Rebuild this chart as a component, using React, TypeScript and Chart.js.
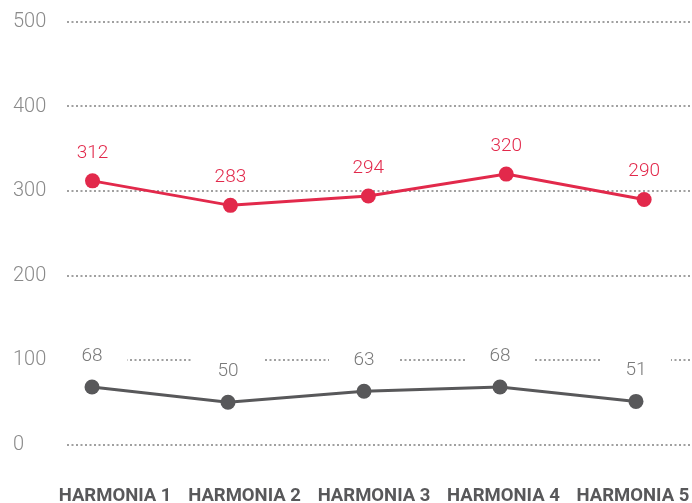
import React, { useEffect, useRef } from "react";
import { Chart, registerables } from "chart.js";

Chart.register(...registerables);

const categories = ["HARMONIA 1", "HARMONIA 2", "HARMONIA 3", "HARMONIA 4", "HARMONIA 5"];
const redValues = [312, 283, 294, 320, 290];
const grayValues = [68, 50, 63, 68, 51];
const yTickValues = [0, 100, 200, 300, 400, 500];

const RED = "#e2294b";
const GRAY = "#58585a";

const labelPlugin = {
  id: "valueLabels",
  afterDatasetsDraw(chart: any) {
    const ctx = chart.ctx;
    chart.data.datasets.forEach((ds: any, di: number) => {
      const meta = chart.getDatasetMeta(di);
      meta.data.forEach((pt: any, i: number) => {
        const text = String(ds.data[i].y);
        const x = pt.x;
        const y = pt.y - ds.labelOffset;
        ctx.save();
        if (ds.labelBox) {
          ctx.fillStyle = "#ffffff";
          ctx.fillRect(x - 35, y - 13, 70, 26);
        }
        ctx.font = "300 19px Roboto";
        ctx.fillStyle = ds.labelColor;
        ctx.textAlign = "center";
        ctx.textBaseline = "middle";
        ctx.fillText(text, x, y);
        ctx.restore();
      });
    });
  },
};

export default function App() {
  const ref = useRef<HTMLCanvasElement>(null);
  useEffect(() => {
    if (!ref.current) return;
    const chart = new Chart(ref.current, {
      type: "line",
      data: {
        datasets: [
          {
            data: redValues.map((v, i) => ({ x: i, y: v })),
            xAxisID: "xr",
            borderColor: RED,
            backgroundColor: RED,
            pointBackgroundColor: RED,
            pointBorderWidth: 0,
            pointRadius: 7.5,
            borderWidth: 3,
            tension: 0,
            labelOffset: 28,
            labelColor: RED,
            labelBox: false,
          } as any,
          {
            data: grayValues.map((v, i) => ({ x: i, y: v })),
            xAxisID: "xg",
            borderColor: GRAY,
            backgroundColor: GRAY,
            pointBackgroundColor: GRAY,
            pointBorderWidth: 0,
            pointRadius: 7.5,
            borderWidth: 3,
            tension: 0,
            labelOffset: 31,
            labelColor: "#7a7a7a",
            labelBox: true,
          } as any,
        ],
      },
      options: {
        animation: false,
        responsive: false,
        layout: { autoPadding: false, padding: { top: 22, left: 13, right: 0, bottom: 0 } },
        plugins: { legend: { display: false }, tooltip: { enabled: false } },
        scales: {
          xr: { type: "linear", display: false, min: -0.185, max: 4.347 },
          xg: { type: "linear", display: false, min: -0.184, max: 4.412 },
          x: {
            type: "linear",
            position: "bottom",
            min: -0.371,
            max: 4.456,
            grid: { display: false, drawTicks: false },
            border: { display: false },
            ticks: {
              padding: 41,
              autoSkip: false,
              maxRotation: 0,
              color: GRAY,
              font: { family: "Roboto", weight: "bold", size: 18.5 },
              callback: (v: any) => categories[v] ?? "",
            },
            afterBuildTicks: (s: any) => {
              s.ticks = categories.map((_, i) => ({ value: i }));
            },
            afterFit: (s: any) => {
              s.height = 58.5;
              s.paddingLeft = 0;
              s.paddingRight = 0;
            },
          },
          y: {
            min: 0,
            max: 500,
            afterBuildTicks: (s: any) => {
              s.ticks = yTickValues.map((v) => ({ value: v }));
            },
            ticks: {
              crossAlign: "far",
              padding: 0,
              color: "#8a8a8a",
              font: { family: "Roboto", weight: "300", size: 20 },
            },
            grid: { color: "#a0a0a0", lineWidth: 2, drawTicks: false },
            border: { display: false, dash: [2, 2.5] },
            afterFit: (s: any) => {
              s.width = 54;
            },
          },
        } as any,
      },
      plugins: [labelPlugin],
    });
    return () => chart.destroy();
  }, []);
  return (
    <div style={{ position: "absolute", left: 0, top: 0, width: 692, height: 503 }}>
      <canvas ref={ref} width={692} height={503} />
    </div>
  );
}
